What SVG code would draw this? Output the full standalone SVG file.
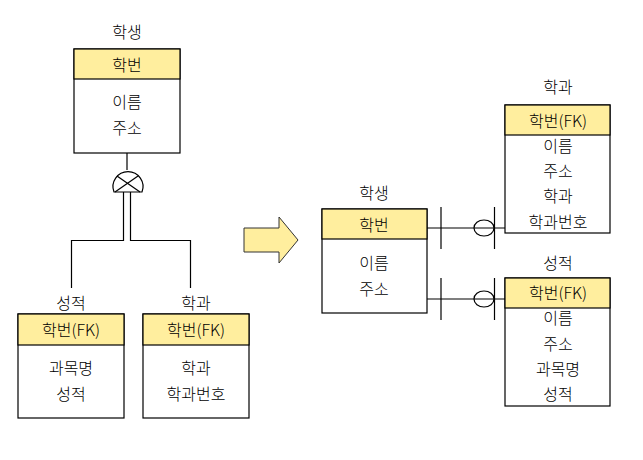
<svg xmlns="http://www.w3.org/2000/svg" width="643" height="460" viewBox="0 0 643 460">
<style>
.box{fill:#fff;stroke:#000;stroke-width:1.2}
.hdr{fill:#FFEE9E;stroke:#000;stroke-width:1.2}
.t{font-family:"Noto Sans CJK KR","Noto Sans",sans-serif;font-size:16px;font-weight:300;fill:#000;text-anchor:middle;dominant-baseline:central}
.ln{fill:none;stroke:#000;stroke-width:1.2}
</style>
<rect width="643" height="460" fill="#fff"/>
<g id="student-left">
<text class="t" x="127" y="31">학생</text>
<rect class="box" x="74" y="49" width="106" height="104"/>
<rect class="hdr" x="74" y="49" width="106" height="30"/>
<text class="t" x="127" y="64">학번</text>
<text class="t" x="127" y="101">이름</text>
<text class="t" x="127" y="127">주소</text>
</g>
<g id="grade-left">
<text class="t" x="71" y="302">성적</text>
<rect class="box" x="18" y="314" width="106" height="104"/>
<rect class="hdr" x="18" y="314" width="106" height="31"/>
<text class="t" x="71" y="329">학번(FK)</text>
<text class="t" x="71" y="367">과목명</text>
<text class="t" x="71" y="393">성적</text>
</g>
<g id="dept-left">
<text class="t" x="196" y="302">학과</text>
<rect class="box" x="143" y="314" width="106" height="104"/>
<rect class="hdr" x="143" y="314" width="106" height="31"/>
<text class="t" x="196" y="329">학번(FK)</text>
<text class="t" x="196" y="367">학과</text>
<text class="t" x="196" y="393">학과번호</text>
</g>
<g id="arrow">
<polygon points="244,228 279,228 279,217 298,240 279,263 279,252 244,252" fill="#FFEE9E" stroke="#333" stroke-width="1"/>
</g>
<g id="student-right">
<text class="t" x="374" y="192">학생</text>
<rect class="box" x="322" y="209" width="105" height="104"/>
<rect class="hdr" x="322" y="209" width="105" height="30"/>
<text class="t" x="374" y="224">학번</text>
<text class="t" x="374" y="262">이름</text>
<text class="t" x="374" y="288">주소</text>
</g>
<g id="dept-right">
<text class="t" x="558" y="86">학과</text>
<rect class="box" x="505" y="105" width="105" height="128"/>
<rect class="hdr" x="505" y="105" width="105" height="30"/>
<text class="t" x="558" y="120">학번(FK)</text>
<text class="t" x="558" y="145">이름</text>
<text class="t" x="558" y="170">주소</text>
<text class="t" x="558" y="195">학과</text>
<text class="t" x="558" y="221">학과번호</text>
</g>
<g id="grade-right">
<text class="t" x="558" y="262">성적</text>
<rect class="box" x="505" y="278" width="105" height="128"/>
<rect class="hdr" x="505" y="278" width="105" height="30"/>
<text class="t" x="558" y="292">학번(FK)</text>
<text class="t" x="558" y="317">이름</text>
<text class="t" x="558" y="343">주소</text>
<text class="t" x="558" y="368">과목명</text>
<text class="t" x="558" y="393">성적</text>
</g>
<g id="connectors">
<line class="ln" x1="127" y1="153" x2="127" y2="170"/>
<path class="ln" d="M114,192 A15,15 0 1 1 142,192 Z" stroke="#444"/>
<line class="ln" x1="117" y1="176" x2="140" y2="192" stroke="#444"/>
<line class="ln" x1="138" y1="176" x2="115" y2="192" stroke="#444"/>
<path class="ln" d="M123.5,192 V240.5 H71.5 V288"/>
<path class="ln" d="M130.5,192 V240.5 H190.5 V288"/>
<line class="ln" x1="427" y1="228" x2="505" y2="228"/>
<line class="ln" x1="441" y1="207" x2="441" y2="249"/>
<ellipse class="ln" cx="484" cy="228" rx="10" ry="8" stroke="#444"/>
<line class="ln" x1="494.5" y1="207" x2="494.5" y2="249"/>
<line class="ln" x1="427" y1="299" x2="505" y2="299"/>
<line class="ln" x1="441" y1="278" x2="441" y2="320"/>
<ellipse class="ln" cx="484" cy="299" rx="10" ry="8" stroke="#444"/>
<line class="ln" x1="494.5" y1="278" x2="494.5" y2="320"/>
</g>
</svg>
